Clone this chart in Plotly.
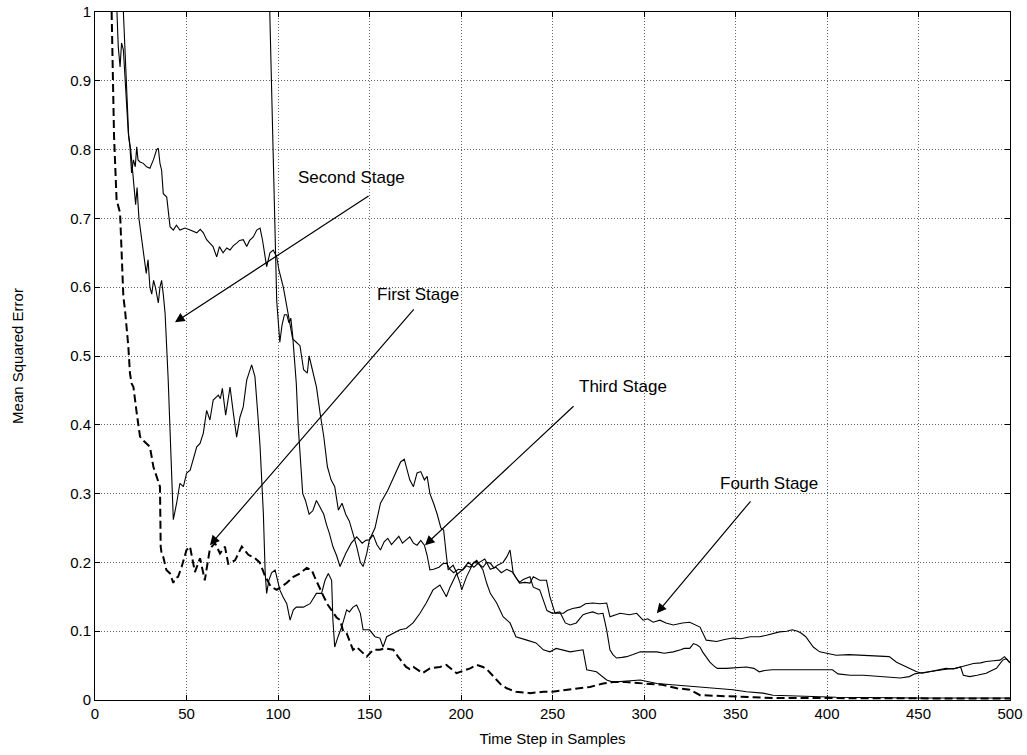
import plotly.graph_objects as go

# ---- data: (time step, mean squared error) ----
first_stage = [
    (9.1, 1.0), (10.4, 0.82), (11.8, 0.727), (13.7, 0.708), (15.5, 0.586), (16.4, 0.567),
    (18.2, 0.514), (19.1, 0.475), (20, 0.46), (21, 0.455), (22.8, 0.417), (24.6, 0.383),
    (26, 0.378), (28, 0.373), (30, 0.368), (31.9, 0.339), (33, 0.33), (34.6, 0.32),
    (35.5, 0.31), (35.9, 0.223), (36.4, 0.213), (37.3, 0.208), (39, 0.189), (41, 0.184),
    (42.8, 0.17), (43.7, 0.177), (45.4, 0.179), (47.4, 0.194), (50, 0.218), (51.9, 0.223),
    (53.7, 0.194), (54.6, 0.186), (57.4, 0.206), (60, 0.174), (62.8, 0.22), (65.6, 0.228),
    (68.3, 0.213), (71, 0.223), (72.8, 0.198), (76.5, 0.203), (80.2, 0.223), (83.8, 0.211),
    (87.4, 0.206), (90, 0.2), (93, 0.18), (96, 0.165), (99.3, 0.16), (101, 0.163),
    (104.7, 0.17), (108.4, 0.179), (112, 0.184), (115.7, 0.192), (118.4, 0.189), (120, 0.179),
    (122, 0.167), (125, 0.15), (127.3, 0.138), (130, 0.128), (132, 0.12), (134, 0.116),
    (135.6, 0.1), (137.5, 0.097), (139, 0.087), (141, 0.073), (143, 0.077), (145.5, 0.07),
    (148.5, 0.063), (152, 0.073), (155.7, 0.073), (158, 0.075), (163, 0.073), (165.6, 0.063),
    (168, 0.055), (170, 0.048), (172, 0.045), (174, 0.048), (179, 0.039), (183, 0.046),
    (188.5, 0.048), (192, 0.051), (197.6, 0.039), (201, 0.042), (205, 0.046), (208.6, 0.051),
    (212, 0.048), (214, 0.045), (216, 0.039), (219.5, 0.029), (222, 0.022), (225, 0.017),
    (230, 0.012), (237.7, 0.01), (245, 0.012), (250, 0.012), (256, 0.014), (263, 0.017),
    (270.5, 0.019), (277.7, 0.024), (283, 0.026), (290, 0.026), (295, 0.025), (301, 0.024),
    (310, 0.022), (318, 0.017), (325, 0.015), (330.6, 0.007), (338, 0.006), (348, 0.005),
    (360, 0.004), (370, 0.003), (400, 0.003), (450, 0.002), (500, 0.002),
]

second_stage = [
    (15.5, 1.0), (16.2, 0.95), (17, 0.9), (17.6, 0.86), (18.4, 0.82), (19.5, 0.8),
    (20.5, 0.77), (21.5, 0.74), (22.2, 0.72), (23, 0.745), (24, 0.7), (25, 0.68),
    (26, 0.66), (27, 0.645), (28, 0.62), (29, 0.64), (30, 0.6), (31, 0.59), (32, 0.61),
    (33, 0.6), (34.6, 0.577), (35.5, 0.6), (36.4, 0.61), (37.3, 0.59), (38.3, 0.562),
    (40, 0.465), (41.9, 0.32), (42.8, 0.262), (44.6, 0.286), (46.4, 0.315), (48.3, 0.31),
    (50.1, 0.33), (52, 0.334), (53.7, 0.349), (55.6, 0.368), (57.4, 0.373), (59.2, 0.388),
    (61, 0.421), (62.8, 0.407), (64.6, 0.436), (67.4, 0.443), (68.5, 0.438), (69.6, 0.453),
    (71.4, 0.414), (73.8, 0.455), (75.6, 0.417), (77.4, 0.382), (79.2, 0.411), (81, 0.426),
    (82.9, 0.465), (85.6, 0.487), (87.4, 0.47), (88.4, 0.441), (89.2, 0.407), (90.2, 0.368),
    (92, 0.271), (93, 0.184), (93.8, 0.155), (95, 0.174), (96.5, 0.185), (98.4, 0.189),
    (99.3, 0.18), (101, 0.16), (102.7, 0.15), (104.8, 0.14), (106.6, 0.116), (108.4, 0.131),
    (110, 0.135), (113.8, 0.135), (117.5, 0.14), (121, 0.155), (123.8, 0.155), (125.7, 0.174),
    (127.5, 0.184), (129.3, 0.174), (130, 0.116), (131, 0.077), (132.8, 0.092), (134.8, 0.106),
    (137.5, 0.131), (139, 0.128), (141, 0.135), (143, 0.138), (145, 0.126), (146.5, 0.102),
    (150, 0.102), (153, 0.092), (155.7, 0.09), (157.4, 0.077), (159.4, 0.092), (163, 0.097),
    (166.7, 0.102), (170, 0.104), (173.8, 0.112), (177.6, 0.126), (181, 0.141), (184.7, 0.16),
    (188.5, 0.167), (190, 0.16), (192, 0.15), (194, 0.164), (197.6, 0.184), (199.5, 0.17),
    (200.4, 0.16), (203, 0.179), (206.7, 0.199), (208.6, 0.203), (212, 0.189), (214, 0.17),
    (216, 0.155), (219.5, 0.141), (223, 0.121), (226.8, 0.112), (230, 0.092), (236, 0.087),
    (241, 0.083), (245, 0.073), (248.6, 0.07), (252, 0.075), (259.6, 0.07), (266.7, 0.073),
    (268.7, 0.044), (274, 0.041), (279.6, 0.029), (283, 0.026), (290, 0.027), (298, 0.029),
    (307, 0.024), (316, 0.022), (330, 0.019), (341.5, 0.017), (348.6, 0.015), (356, 0.012),
    (365, 0.01), (370.5, 0.007), (383, 0.006), (401, 0.005), (405, 0.004), (450, 0.003),
    (500, 0.003),
]

third_stage = [
    (95.5, 1.0), (96.5, 0.9), (97.5, 0.77), (98.5, 0.668), (99.3, 0.58), (101, 0.52),
    (102.2, 0.545), (103.5, 0.56), (104.8, 0.56), (106, 0.548), (107, 0.555), (108, 0.53),
    (109, 0.5), (110, 0.46), (111, 0.4), (112, 0.36), (113.5, 0.3), (115, 0.29), (117, 0.27),
    (119, 0.275), (121, 0.29), (123, 0.28), (125, 0.27), (126.5, 0.255), (128, 0.243),
    (130, 0.223), (132, 0.21), (133.9, 0.194), (135.5, 0.205), (137, 0.213), (140, 0.228),
    (143, 0.237), (146, 0.228), (148, 0.232), (150, 0.233), (152, 0.24), (154, 0.226),
    (156, 0.218), (158, 0.23), (160, 0.235), (162, 0.226), (164, 0.232), (166, 0.238),
    (168, 0.228), (170, 0.233), (172, 0.237), (174, 0.228), (176, 0.225), (178, 0.232),
    (180, 0.225), (181.5, 0.21), (183, 0.189), (185, 0.19), (188, 0.193), (190, 0.198),
    (192, 0.199), (194, 0.19), (196, 0.185), (198.5, 0.19), (201, 0.189), (203, 0.195),
    (205, 0.193), (207, 0.2), (209, 0.199), (212, 0.193), (214, 0.2), (216, 0.199),
    (218, 0.192), (220, 0.196), (223, 0.2), (225, 0.208), (226.8, 0.218), (228.5, 0.185),
    (230, 0.178), (232, 0.171), (234, 0.175), (237.7, 0.179), (239.5, 0.164), (243, 0.16),
    (245, 0.145), (247, 0.13), (250, 0.126), (254, 0.128), (257, 0.112), (259.6, 0.109),
    (263, 0.112), (266.7, 0.124), (269, 0.126), (272, 0.128), (275, 0.125), (277.6, 0.126),
    (279.6, 0.102), (281.4, 0.073), (283, 0.066), (285, 0.061), (288, 0.062), (290.5, 0.063),
    (294, 0.066), (298, 0.07), (302, 0.07), (307, 0.07), (311, 0.068), (316, 0.07),
    (320, 0.073), (322, 0.075), (325, 0.075), (327, 0.082), (329, 0.08), (330.6, 0.077),
    (332, 0.07), (334, 0.063), (336, 0.055), (338, 0.05), (340, 0.046), (345, 0.046),
    (350, 0.047), (356, 0.048), (360, 0.046), (363, 0.041), (366, 0.043), (370, 0.044),
    (380, 0.044), (389, 0.044), (396, 0.045), (403, 0.044), (406, 0.038), (412.6, 0.036),
    (420, 0.036), (426, 0.035), (430, 0.034), (436, 0.033), (440, 0.032), (445, 0.034),
    (448, 0.038), (450, 0.039), (455, 0.041), (461.7, 0.044), (466, 0.045), (470, 0.046),
    (473, 0.048), (474.5, 0.036), (478, 0.034), (482, 0.036), (487, 0.039), (490, 0.043),
    (492.6, 0.046), (496, 0.058), (498, 0.06), (500, 0.054),
]

fourth_stage = [
    (12, 1.0), (12.7, 0.95), (13.7, 0.92), (14.5, 0.955), (15.5, 0.945), (16.4, 0.906),
    (17, 0.87), (18.2, 0.824), (19.1, 0.804), (20, 0.766), (21, 0.785), (22, 0.775),
    (22.8, 0.804), (23.5, 0.785), (24.6, 0.782), (26.4, 0.78), (28.2, 0.775), (30, 0.773),
    (31.9, 0.785), (33.7, 0.8), (34.6, 0.802), (35.5, 0.78), (36.4, 0.77), (37.3, 0.736),
    (39.2, 0.731), (41, 0.688), (42.8, 0.683), (44.5, 0.69), (46.4, 0.683), (49.2, 0.686),
    (52, 0.683), (55.6, 0.679), (57.5, 0.684), (59.2, 0.679), (61, 0.669), (62.8, 0.664),
    (64.5, 0.659), (66.5, 0.644), (68, 0.659), (70, 0.65), (72, 0.657), (73.8, 0.654),
    (75.5, 0.66), (77.4, 0.664), (79, 0.668), (81, 0.669), (82.9, 0.659), (84.5, 0.668),
    (86.5, 0.673), (88.4, 0.683), (90.2, 0.686), (91.5, 0.669), (93.8, 0.63), (95.6, 0.65),
    (97.4, 0.654), (99.3, 0.644), (100.5, 0.625), (102.9, 0.6), (104.5, 0.575), (106, 0.55),
    (108, 0.525), (110, 0.52), (112, 0.515), (114, 0.48), (116, 0.475), (117, 0.5),
    (119, 0.475), (121, 0.455), (123, 0.417), (125, 0.383), (127, 0.339), (129, 0.32),
    (131, 0.31), (133, 0.276), (135, 0.286), (137, 0.27), (139, 0.26), (141, 0.243),
    (143, 0.223), (145, 0.2), (146.5, 0.194), (148.5, 0.213), (150, 0.233), (153, 0.25),
    (156, 0.286), (160, 0.305), (164, 0.33), (167, 0.346), (169, 0.35), (170.5, 0.335),
    (172, 0.32), (174, 0.31), (176, 0.33), (178, 0.332), (180, 0.32), (181.5, 0.325),
    (183, 0.3), (185, 0.286), (187, 0.27), (189, 0.25), (190.5, 0.247), (192, 0.21),
    (193, 0.189), (195.7, 0.196), (198, 0.183), (201, 0.19), (204, 0.2), (207, 0.193),
    (210, 0.2), (213, 0.205), (216, 0.19), (219, 0.193), (222, 0.185), (225, 0.19),
    (228, 0.186), (232, 0.17), (235, 0.171), (237.7, 0.17), (239.5, 0.179), (243, 0.174),
    (246.7, 0.174), (248.6, 0.15), (251.4, 0.126), (256, 0.126), (258, 0.13), (261, 0.133),
    (265, 0.135), (268, 0.14), (272, 0.141), (276, 0.14), (279.6, 0.141), (281.4, 0.121),
    (284, 0.123), (287, 0.126), (292, 0.124), (296, 0.126), (299.5, 0.116), (302, 0.118),
    (305, 0.113), (308.7, 0.116), (312, 0.112), (316, 0.109), (321, 0.112), (325, 0.113),
    (330.6, 0.106), (334, 0.087), (339.7, 0.085), (344, 0.088), (348.6, 0.09), (353, 0.089),
    (358, 0.092), (363, 0.092), (367, 0.094), (370, 0.096), (374, 0.099), (378, 0.1),
    (381, 0.102), (384, 0.1), (386, 0.097), (388.4, 0.092), (392.5, 0.077), (396, 0.07),
    (400, 0.068), (405, 0.065), (412, 0.066), (421, 0.065), (426, 0.064), (430.6, 0.063),
    (434, 0.063), (438, 0.055), (442, 0.05), (445, 0.046), (449, 0.041), (452, 0.039),
    (457, 0.042), (461.7, 0.044), (465, 0.046), (469, 0.045), (472.7, 0.048), (476, 0.05),
    (480, 0.053), (484, 0.054), (487, 0.056), (491, 0.057), (494.5, 0.058), (497, 0.063),
    (500, 0.054),
]

# label text, label position, arrow tail, arrow head
stage_labels = [
    ("Second Stage", (139.9, 0.760), (150.3, 0.734), (43.7, 0.549)),
    ("First Stage", (176.5, 0.589), (174.9, 0.570), (62.8, 0.225)),
    ("Third Stage", (288.5, 0.455), (262.3, 0.429), (180.3, 0.225)),
    ("Fourth Stage", (368.3, 0.315), (358.9, 0.291), (307.0, 0.126)),
]

x_ticks = [0, 50, 100, 150, 200, 250, 300, 350, 400, 450, 500]
y_ticks = [0, 0.1, 0.2, 0.3, 0.4, 0.5, 0.6, 0.7, 0.8, 0.9, 1]

FONT = "Liberation Sans, Arial, sans-serif"

fig = go.Figure()


def add_curve(points, dash=None, width=1.1):
    xs = [p[0] for p in points]
    ys = [p[1] for p in points]
    line = dict(color="black", width=width)
    if dash:
        line["dash"] = dash
    fig.add_trace(go.Scatter(x=xs, y=ys, mode="lines", line=line,
                             showlegend=False, hoverinfo="skip"))


add_curve(second_stage)
add_curve(third_stage)
add_curve(fourth_stage)
add_curve(first_stage, dash="8px,4px", width=2.0)

for text, (tx, ty), (ax, ay), (hx, hy) in stage_labels:
    fig.add_annotation(x=tx, y=ty, text=text, showarrow=False,
                       font=dict(family=FONT, size=17, color="black"))
    fig.add_annotation(x=hx, y=hy, ax=ax, ay=ay, axref="x", ayref="y",
                       text="", showarrow=True, arrowhead=2, arrowsize=1.6,
                       arrowwidth=1.2, arrowcolor="black")

axis_common = dict(
    showline=True, linecolor="black", linewidth=1, mirror="ticks",
    ticks="inside", ticklen=5, tickcolor="black",
    showgrid=True, gridcolor="#666666", gridwidth=1, griddash="1px,2px",
    zeroline=False, tickfont=dict(family=FONT, size=15, color="black"),
)

fig.update_xaxes(range=[0, 500], tickvals=x_ticks,
                 title=dict(text="Time Step in Samples", standoff=12,
                            font=dict(family=FONT, size=15, color="black")),
                 **axis_common)
fig.update_yaxes(range=[0, 1], tickvals=y_ticks,
                 ticktext=[("%g" % v) for v in y_ticks],
                 title=dict(text="Mean Squared Error", standoff=42,
                            font=dict(family=FONT, size=15, color="black")),
                 **axis_common)

fig.update_layout(
    width=1027, height=755,
    margin=dict(l=95, r=17, t=12, b=55, autoexpand=False),
    paper_bgcolor="white", plot_bgcolor="white",
)

fig.write_html("out.html")
